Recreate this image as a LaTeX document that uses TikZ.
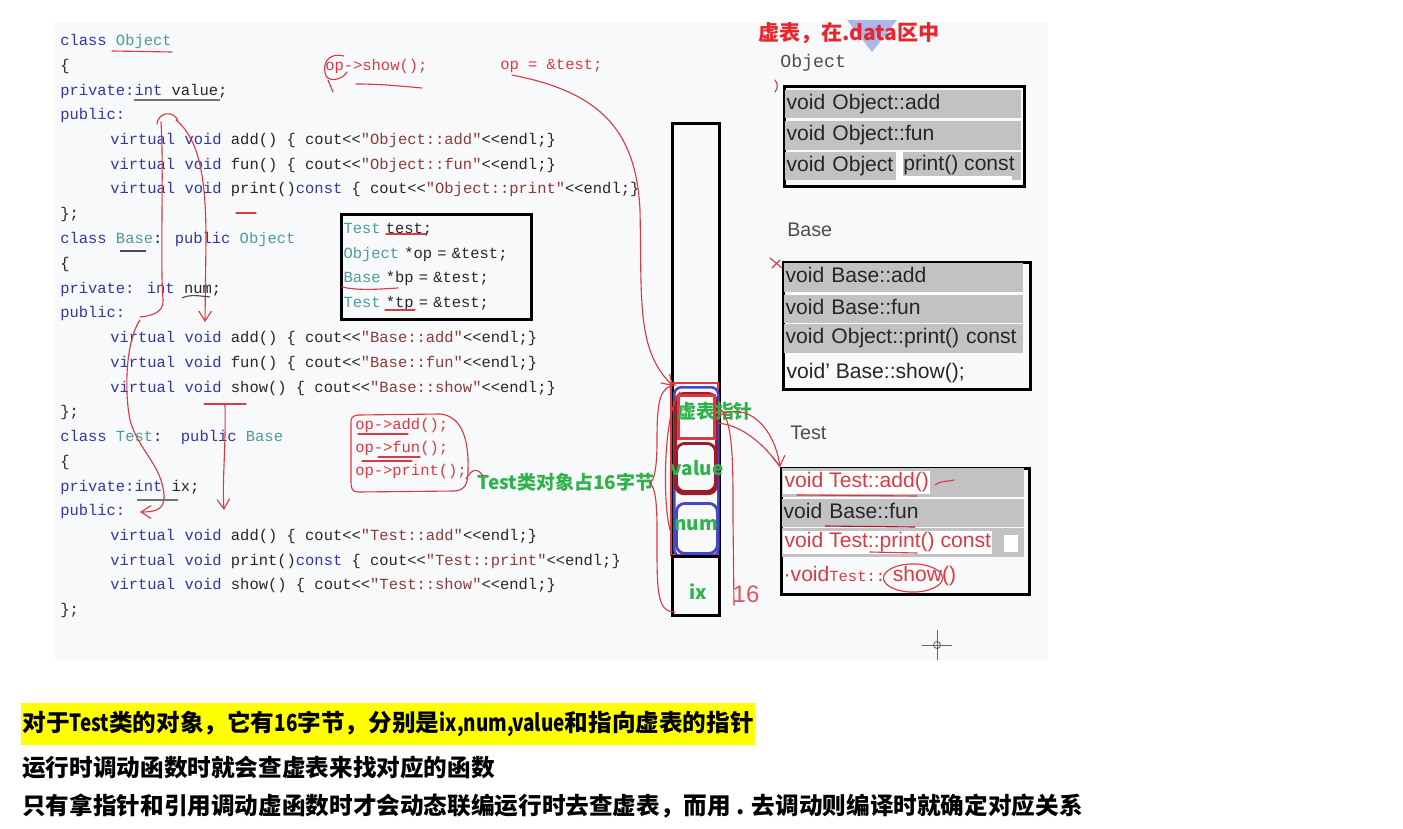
\documentclass[tikz,border=0pt]{standalone}
\usepackage{fontspec}
\setmainfont{Liberation Sans}
\newfontfamily\codefont{Liberation Mono}
\newfontfamily\uifont{Liberation Sans}
\newfontfamily\cjk{Noto Sans CJK SC}
\usetikzlibrary{arrows.meta,positioning,calc}
\definecolor{kwblue}{HTML}{33379E}
\definecolor{clsteal}{HTML}{4C9C9E}
\definecolor{strred}{HTML}{8C3A3A}
\definecolor{codeink}{HTML}{262626}
\definecolor{inkred}{HTML}{D93A44}
\definecolor{darkink}{HTML}{9E1B2A}
\definecolor{titlered}{HTML}{E8262D}
\definecolor{memblue}{HTML}{4646C8}
\definecolor{markgreen}{HTML}{2EB24B}
\definecolor{rowgray}{HTML}{C2C2C2}
\definecolor{shotbg}{HTML}{F8F9FA}
\definecolor{hilite}{HTML}{FFFF00}
\definecolor{logoblue}{HTML}{A9B9EA}
\newcommand\kw[1]{\textcolor{kwblue}{#1}}
\newcommand\cname[1]{\textcolor{clsteal}{#1}}
\newcommand\strlit[1]{\textcolor{strred}{#1}}
\newcommand\shl{<\kern0pt<}
\newcommand\narrowlat[1]{\scalebox{0.8}[1]{#1}}
\newcommand\vtfont{\uifont\fontsize{15}{18}\selectfont}

\begin{document}
\begin{tikzpicture}[x=0.025cm, y=-0.025cm,
  code/.style={anchor=west, inner sep=0pt, font=\codefont\fontsize{11}{13}\selectfont, text=codeink},
  redcode/.style={code, text=inkred},
  vframe/.style={draw=black, line width=2.1pt, anchor=north west, inner sep=0pt},
  vrow/.style={anchor=west, fill=rowgray, text width=#1, inner xsep=1pt, inner ysep=0pt,
    minimum height=0.72cm, text height=11pt, text depth=3.5pt, font=\vtfont, text=codeink, align=left},
  vrow/.default=5.83cm,
  vtext/.style={anchor=west, inner xsep=1pt, inner ysep=1pt, font=\vtfont, text=codeink},
  vhead/.style={anchor=west, inner sep=0pt, text=black!70},
  glabel/.style={inner sep=0pt, font=\cjk\bfseries\fontsize{13.5}{15}\selectfont, text=markgreen},
  cell/.style={anchor=north west, inner sep=0pt},
  ink/.style={draw=inkred, line width=0.8pt, line cap=round, line join=round},
  inktip/.style={ink, -{Straight Barb[length=7pt, width=9pt]}},
  note/.style={anchor=west, inner sep=0pt, font=\cjk\bfseries\fontsize{16.8}{20}\selectfont, text=black}
]
\useasboundingbox (0,0) rectangle (1403,829);
\fill[shotbg] (55,22) rectangle (1048,660);

% class code
\node[code] (c1) at (60,41) {\kw{class} \cname{Object}};
\node[code] (c2) at (60,66) {\{};
\node[code] (c3) at (60,91) {\kw{private:int} value;};
\node[code] (c4) at (60,115) {\kw{public:}};
\node[code] (c5) at (110,140) {\kw{virtual void} add() \{ cout\shl\strlit{"Object::add"}\shl endl;\}};
\node[code] (c6) at (110,165) {\kw{virtual void} fun() \{ cout\shl\strlit{"Object::fun"}\shl endl;\}};
\node[code] (c7) at (110,189) {\kw{virtual void} print()\kw{const} \{ cout\shl\strlit{"Object::print"}\shl endl;\}};
\node[code] (c8) at (60,214) {\};};
\node[code] (c9) at (60,239) {\kw{class} \cname{Base}: \kw{public} \cname{Object}};
\node[code] (c10) at (60,264) {\{};
\node[code] (c11) at (60,289) {\kw{private:} \kw{int} num;};
\node[code] (c12) at (60,313) {\kw{public:}};
\node[code] (c13) at (110,338) {\kw{virtual void} add() \{ cout\shl\strlit{"Base::add"}\shl endl;\}};
\node[code] (c14) at (110,363) {\kw{virtual void} fun() \{ cout\shl\strlit{"Base::fun"}\shl endl;\}};
\node[code] (c15) at (110,388) {\kw{virtual void} show() \{ cout\shl\strlit{"Base::show"}\shl endl;\}};
\node[code] (c16) at (60,412) {\};};
\node[code] (c17) at (60,437) {\kw{class} \cname{Test}:\ \ \kw{public} \cname{Base}};
\node[code] (c18) at (60,462) {\{};
\node[code] (c19) at (60,487) {\kw{private:int} ix;};
\node[code] (c20) at (60,511) {\kw{public:}};
\node[code] (c21) at (110,536) {\kw{virtual void} add() \{ cout\shl\strlit{"Test::add"}\shl endl;\}};
\node[code] (c22) at (110,561) {\kw{virtual void} print()\kw{const} \{ cout\shl\strlit{"Test::print"}\shl endl;\}};
\node[code] (c23) at (110,585) {\kw{virtual void} show() \{ cout\shl\strlit{"Test::show"}\shl endl;\}};
\node[code] (c24) at (60,610) {\};};

% object declarations
\node[draw=black, line width=2.1pt, anchor=north west, inner xsep=1.5pt, inner ysep=0pt,
  text width=4.65cm, minimum height=2.625cm, align=left,
  font=\codefont\fontsize{11}{17.6}\selectfont, text=codeink] (decl) at (340,213)
  {\cname{Test} test;\\\cname{Object} *op = \&test;\\\cname{Base} *bp = \&test;\\\cname{Test} *tp = \&test;};

% red notes
\node[redcode] (opshow) at (325,66) {op->show();};
\node[redcode] (opset) at (500,66) {op = \&test;};
\node[redcode] (opadd) at (355,425) {op->add();};
\node[redcode] (opfun) at (355,448) {op->fun();};
\node[redcode] (opprint) at (355,471) {op->print();};

% title
\fill[logoblue] (847,20) -- (897,20) -- (872,52) -- cycle;
\node[inner sep=0pt, font=\cjk\bfseries\fontsize{15}{17}\selectfont, text=titlered] (title) at (849,33) {虚表，在.data区中};

% vtables
\node[vhead, font=\codefont\fontsize{13}{15}\selectfont] (ohead) at (780,63) {Object};
\node[vframe, minimum width=6cm, minimum height=2.5cm] (ovt) at (783,85) {};
\node[vrow] (o1) at (785,104) {void Object::add};
\node[vrow] (o2) at (785,135.5) {void Object::fun};
\node[vrow] (o3) at (785,166) {void Object};
\fill[white] (896,152) rectangle (903,181);
\fill[white] (903,176) rectangle (1012,181);
\node[vtext, inner xsep=0pt] (o3b) at (903,165) {print() const};

\node[vhead, font=\uifont\fontsize{14}{16}\selectfont] (bhead) at (787,230) {Base};
\node[vframe, minimum width=6.175cm, minimum height=3.175cm] (bvt) at (782,261) {};
\node[vrow=5.905cm] (b1) at (784,277.5) {void Base::add};
\node[vrow=5.905cm] (b2) at (784,309) {void Base::fun};
\node[vrow=5.905cm] (b3) at (784,338.5) {void Object::print() const};
\node[vtext] (b4) at (785,373) {void’ Base::show();};

\node[vhead, font=\uifont\fontsize{14}{16}\selectfont] (thead) at (790,433) {Test};
\node[vframe, minimum width=6.2cm, minimum height=3.15cm] (tvt) at (780,467) {};
\node[vrow=5.98cm] (t1) at (782,482.5) {};
\node[vtext, fill=white, text=inkred] (t1txt) at (783,482.5) {void Test::add()};
\node[vrow=5.98cm] (t2) at (782,513) {void Base::fun};
\node[vrow=5.98cm] (t3) at (782,542.5) {};
\fill[white] (1004,535) rectangle (1018,552);
\node[vtext, fill=white, text=inkred] (t3txt) at (783,542.5) {void Test::print() const};
\node[vtext, text=inkred] (t4) at (782,576) {·void{\codefont\fontsize{11}{13}\selectfont Test::} show()};

% object memory
\node[cell, draw=black, line width=2.1pt, minimum width=1.175cm, minimum height=12.3cm] (mem) at (671,122) {};
\draw[inkred, line width=0.8pt] (671,383) rectangle (718,555);
\node[cell, draw=memblue, line width=1.8pt, rounded corners=5pt, minimum width=1.1cm, minimum height=4.225cm] (objgrp) at (673,386) {};
\node[cell, draw=darkink, line width=2.2pt, rounded corners=6pt, minimum width=1.025cm, minimum height=2.5cm] (basegrp) at (674,392) {};
\node[cell, draw=inkred, line width=2.4pt, minimum width=0.9cm, minimum height=1.075cm] (vptr) at (677,394) {};
\node[cell, draw=darkink, line width=2pt, rounded corners=6pt, minimum width=0.975cm, minimum height=1.2cm] (value) at (675,442) {};
\node[cell, draw=memblue, line width=2pt, rounded corners=6pt, minimum width=1.025cm, minimum height=1.25cm] (num) at (675,502) {};
\node[cell, draw=black, line width=2.1pt, minimum width=1.175cm, minimum height=1.475cm] (ix) at (671,555) {};

\node[glabel] (vptrlbl) at (715,411) {虚表指针};
\node[glabel] (valuelbl) at (697,468) {value};
\node[glabel] (numlbl) at (696,525) {num};
\node[glabel] (ixlbl) at (698,592) {ix};
\node[glabel] (sizelbl) at (566,482) {Test类对象占16字节};
\node[inner sep=0pt, text=inkred!85, font=\uifont\fontsize{17}{18}\selectfont] (sixteen) at (746,594) {16};

% pen marks
\draw[inktip] ($(opset.south west)+(12,2)$) .. controls (600,92) and (636,130) .. (640,210)
  .. controls (642,300) and (636,350) .. (objgrp.north west);
\draw[inktip] (vptr.east) .. controls (748,398) and (775,430) .. (tvt.north west);
\draw[ink] ($(vptr.east)+(2,6)$) .. controls (742,425) and (765,445) .. (tvt.north west);
\draw[ink] (344,56) .. controls (326,52) and (322,66) .. (326,76) .. controls (330,82) and (342,80) .. (347,72);
\draw[ink] (328,80) -- (333,92);
\draw[ink] (356,84) .. controls (380,84) and (400,86) .. (422,88);
\draw[ink] (358,415) -- (440,414) .. controls (462,416) and (469,440) .. (468,470)
  .. controls (468,482) and (466,490) .. (455,491) -- (358,492)
  .. controls (352,492) and (351,488) .. (351,482) -- (351,422) .. controls (351,418) and (352,416) .. (358,415);
\draw[ink] (466,479) .. controls (472,468) and (478,468) .. (483,476);
\draw[ink] (676,385) .. controls (660,386) and (657,400) .. (657,440) .. controls (657,470) and (654,480) .. (650,483)
  .. controls (655,488) and (657,500) .. (657,530) .. controls (657,590) and (656,612) .. (675,612);
\draw[ink] (680,392) .. controls (664,410) and (662,500) .. (670,530);
\draw[ink] (719,408) .. controls (734,418) and (733,470) .. (733,520) -- (734,605);
\draw[ink] (157,124) .. controls (158,112) and (174,110) .. (178,121);
\draw[ink] (161,122) .. controls (164,170) and (160,260) .. (163,300) .. controls (164,312) and (152,316) .. (140,317);
\draw[inktip] (176,120) .. controls (200,140) and (206,180) .. (206,240) -- (205,322);
\draw[inktip] (140,320) .. controls (126,340) and (124,390) .. (130,420) .. controls (138,450) and (162,465) .. (164,495)
  .. controls (165,510) and (155,512) .. (140,512);
\draw[ink] (204,404) -- (246,404);
\draw[inktip] (225,404) .. controls (226,450) and (222,480) .. (224,510);
\draw[ink] (112,51) -- (172,52);
\draw[ink] (236,213) -- (256,213);
\draw[ink] (386,234) -- (426,234);
\draw[ink] (342,287) .. controls (360,291) and (380,289) .. (398,288);
\draw[ink] (385,310) -- (415,310);
\draw[ink] (358,434) -- (408,434);
\draw[ink] (378,457) -- (420,457);
\draw[ink] (362,461) -- (412,461);
\draw[ink] (797,495) -- (917,496);
\draw[ink] (935,485) .. controls (942,480) and (948,482) .. (954,480);
\draw[darkink, line width=0.8pt] (825,526) -- (915,527);
\draw[ink] (870,552) -- (917,553);
\draw[ink] (913,578) ellipse [x radius=21pt, y radius=10pt];
\draw[ink] (775,80) .. controls (778,84) and (778,88) .. (775,92);
\draw[ink] (770,258) -- (782,268) (772,268) -- (780,260);
\draw[black!55, line width=0.8pt] (134,100) -- (220,100);
\draw[black!70, line width=0.8pt] (120,251) -- (146,251);
\draw[black!70, line width=0.8pt] (182,298) .. controls (190,294) and (200,296) .. (210,297);
\draw[black!55, line width=0.8pt] (137,500) -- (178,500);

% cursor
\draw[black!60, line width=0.6pt] (937,630) -- (937,660) (922,645) -- (952,645);
\draw[black!60, line width=0.6pt] (937,645) circle[radius=2.5pt];

% summary
\node[note, fill=hilite, minimum height=1.05cm, inner xsep=1pt] (sum1) at (21,724) {对于\narrowlat{Test}类的对象，它有\narrowlat{16}字节，分别是\narrowlat{ix,num,value}和指向虚表的指针};
\node[note] (sum2) at (22,768) {运行时调动函数时就会查虚表来找对应的函数};
\node[note] (sum3) at (22,806) {只有拿指针和引用调动虚函数时才会动态联编运行时去查虚表，而用 . 去调动则编译时就确定对应关系};
\end{tikzpicture}
\end{document}
